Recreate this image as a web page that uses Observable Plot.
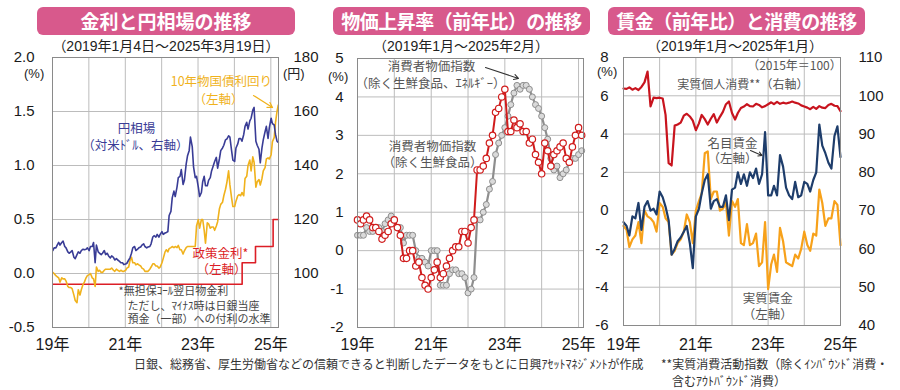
<!DOCTYPE html>
<html><head><meta charset="utf-8">
<script src="https://cdn.jsdelivr.net/npm/d3@7"></script>
<script src="https://cdn.jsdelivr.net/npm/@observablehq/plot@0.6"></script>
<style>
body{margin:0;background:#fff;}
#wrap{position:relative;width:900px;height:390px;overflow:hidden;font-family:"Liberation Sans","Noto Sans CJK JP",sans-serif;color:#222;}
#wrap svg{position:absolute;top:0;}
.title{position:absolute;top:7px;height:28px;background:#d8598c;border-radius:6px;color:#fff;font-weight:bold;font-size:19px;line-height:28px;text-align:center;font-family:"Noto Sans CJK JP",sans-serif;}
.lbl{position:absolute;white-space:nowrap;line-height:1.1;}
</style></head><body><div id="wrap"></div>
<script>
// ---------------- DATA ----------------
// Panel 1: semi-monthly (approx. 4th and 17th of each month), Jan 2019 - Mar 2025
const yenUsd = [
 108.5,109.5, 109.5,110.5, 111.5,110.5, 111.5,112.0, 110.0,109.5, 108.0,107.5, 108.0,108.5, 106.0,105.5, 107.0,108.0, 107.5,108.5, 109.0,108.8, 109.0,109.5,
 108.5,110.0, 110.0,111.5, 104.0,110.5, 108.0,107.5, 107.0,107.5, 108.5,107.0, 107.5,106.5, 105.8,106.5, 106.0,105.0, 105.5,105.0, 104.5,104.0, 104.0,103.3,
 103.5,103.8, 105.0,105.8, 107.5,109.5, 110.0,108.5, 109.0,109.5, 109.8,110.5, 111.0,110.0, 109.5,109.8, 110.0,111.0, 113.5,114.0, 113.5,114.5, 113.5,114.5,
 115.5,114.5, 115.0,115.2, 115.5,121.5, 123.0,128.0, 130.5,128.5, 132.0,135.5, 136.0,138.5, 133.0,134.5, 140.5,143.5, 145.5,150.5, 147.0,139.5, 135.5,136.0,
 132.0,128.5, 130.0,134.0, 136.0,132.5, 132.5,134.5, 135.5,138.0, 140.0,141.5, 143.0,139.0, 142.5,145.5, 146.5,147.5, 149.5,149.8, 151.0,150.5, 145.5,142.0,
 141.5,146.5, 148.0,150.0, 150.0,149.0, 151.5,154.5, 156.0,153.5, 156.5,157.5, 160.5,161.5, 149.0,147.5, 146.0,141.0, 146.5,149.5, 152.5,154.5, 150.0,154.0,
 157.5,155.5, 155.0,151.5, 149.0,148.5
];
const jgb10y = [
 0.01,0.00, -0.02,-0.03, -0.04,-0.08, -0.04,-0.05, -0.05,-0.07, -0.12,-0.13, -0.13,-0.14, -0.20,-0.25, -0.27,-0.15, -0.20,-0.15, -0.10,-0.08, -0.04,-0.02,
 -0.01,0.00, -0.04,-0.05, -0.12,0.06, 0.02,0.03, 0.01,0.01, 0.03,0.04, 0.04,0.04, 0.04,0.05, 0.03,0.02, 0.04,0.03, 0.02,0.03, 0.02,0.02,
 0.03,0.05, 0.06,0.12, 0.15,0.10, 0.10,0.08, 0.09,0.08, 0.07,0.05, 0.04,0.02, 0.02,0.02, 0.04,0.06, 0.09,0.09, 0.07,0.07, 0.05,0.06,
 0.10,0.14, 0.20,0.22, 0.20,0.23, 0.24,0.25, 0.24,0.25, 0.24,0.26, 0.22,0.22, 0.18,0.21, 0.24,0.25, 0.25,0.25, 0.25,0.25, 0.25,0.44,
 0.50,0.42, 0.50,0.50, 0.40,0.28, 0.47,0.46, 0.42,0.43, 0.43,0.40, 0.44,0.48, 0.60,0.64, 0.66,0.72, 0.78,0.84, 0.95,0.82, 0.70,0.62,
 0.62,0.67, 0.72,0.73, 0.72,0.75, 0.72,0.88, 0.90,1.00, 1.05,0.95, 1.08,1.03, 0.80,0.85, 0.87,0.82, 0.88,0.95, 0.98,1.06, 1.07,1.06,
 1.10,1.22, 1.26,1.40, 1.50,1.56
];
const policyDates = ["2019-01-04","2024-03-19","2024-07-31","2025-01-24","2025-03-19"];
const policyRate  = [-0.1, 0.1, 0.25, 0.5, 0.5];

// Panel 2: monthly, Jan 2019 - Feb 2025
const cpiCore = [
 0.8,0.7,0.8,0.9,0.8,0.6,0.6,0.5,0.3,0.4,0.5,0.7,
 0.8,0.6,0.4,-0.2,-0.2,0.0,0.0,-0.4,-0.3,-0.7,-0.9,-1.0,
 -0.7,-0.5,-0.3,-0.7,-0.6,-0.4,-0.2,0.0,0.1,0.1,0.5,0.5,
 0.2,0.6,0.8,2.1,2.1,2.2,2.4,2.8,3.0,3.6,3.7,4.0,
 4.2,3.1,3.1,3.4,3.2,3.3,3.1,3.1,2.8,2.9,2.5,2.3,
 2.0,2.8,2.6,2.2,2.5,2.6,2.7,2.8,2.4,2.3,2.7,3.0,
 3.2,3.0
];
const cpiCoreCore = [
 0.4,0.4,0.4,0.6,0.5,0.5,0.6,0.6,0.5,0.7,0.8,0.9,
 0.8,0.6,0.6,0.2,0.4,0.4,0.4,0.0,-0.2,-0.2,-0.3,-0.4,
 0.0,0.0,0.0,-0.9,-0.9,-0.9,-0.6,-0.5,-0.5,-0.6,-0.6,-0.7,
 -1.1,-1.0,-0.7,0.8,0.8,1.0,1.2,1.6,1.8,2.5,2.8,3.0,
 3.2,3.5,3.8,4.1,4.3,4.2,4.3,4.3,4.2,4.0,3.8,3.7,
 3.5,3.2,2.9,2.4,2.1,2.2,1.9,2.0,2.1,2.3,2.4,2.4,
 2.5,2.6
];

// Panel 3: monthly, Jan 2019 - Jan 2025
const nominalWage = [
 -0.6,-0.8,-1.3,-0.3,-0.4,0.4,-1.0,0.2,0.5,0.0,0.1,-0.2,
 1.0,0.7,0.2,-0.5,-2.3,-2.0,-1.6,-1.4,-1.1,-0.8,-1.7,-3.0,
 -0.3,0.1,0.9,1.6,1.9,0.1,0.5,0.6,0.2,0.2,0.8,-0.5,
 1.1,1.2,2.0,1.4,1.9,1.3,2.0,1.7,2.2,1.4,1.9,4.1,
 0.8,0.8,1.3,0.8,2.9,2.3,1.2,0.8,0.6,1.5,0.7,0.8,
 1.5,1.4,1.0,1.6,2.0,4.5,3.4,3.0,2.5,2.2,3.9,4.4,
 2.8
];
const realWage = [
 -0.8,-1.0,-1.9,-1.5,-1.3,-0.6,-1.7,0.0,-0.3,-0.4,-0.6,-1.1,
 0.4,0.2,-0.4,-0.6,-2.3,-2.1,-1.7,-1.5,-1.1,-0.2,-0.6,-1.7,
 0.0,0.5,0.9,3.0,3.1,0.6,1.0,1.0,0.0,0.1,0.4,-1.3,
 0.5,0.2,0.6,-1.7,-1.8,-0.7,-1.8,-1.7,-1.2,-2.9,-2.7,-0.6,
 -4.1,-2.8,-2.3,-3.2,-0.9,-1.6,-2.7,-2.8,-2.9,-2.3,-2.5,-2.0,
 -1.1,-1.8,-2.1,-1.2,-1.3,1.1,0.4,-0.8,-0.4,-0.4,0.5,0.3,
 -1.8
];
const realConsumption = [
 101.9,101.8,102.2,101.6,102.0,101.5,102.3,103.5,106.3,97.2,99.5,99.4,
 99.5,99.3,95.0,82.4,81.8,92.2,92.5,93.0,94.8,95.3,94.6,93.5,
 91.0,92.8,95.0,93.9,92.5,94.0,95.2,93.0,94.5,95.8,97.8,98.5,
 95.5,93.8,95.5,96.8,97.2,97.8,97.3,97.2,97.9,97.6,97.0,97.3,
 97.8,98.3,97.8,98.4,97.9,98.2,98.0,98.2,98.5,98.2,98.0,97.5,
 97.2,96.9,96.5,97.1,96.6,97.3,96.9,96.8,97.6,97.9,97.4,97.3,
 96.0
];

// Tick labels
const yearLabels = [2019, 2021, 2023, 2025];

// ---------------- BUILD ----------------
const D = s => new Date(s + "T00:00:00Z");
const halfMonths = d3.utcMonths(D("2019-01-01"), D("2025-04-01"))
  .flatMap(m => [d3.utcDay.offset(m, 3), d3.utcDay.offset(m, 16)]);
const rateTable = halfMonths.map((date, i) => ({date, yen: yenUsd[i], jgb: jgb10y[i]}));
const policyTable = policyDates.map((s, i) => ({date: D(s), rate: policyRate[i]}));
const cpiMonths = d3.utcMonths(D("2019-01-01"), D("2025-03-01"));
const cpiTable = cpiMonths.map((date, i) => ({date, core: cpiCore[i], cc: cpiCoreCore[i]}));
const wageMonths = d3.utcMonths(D("2019-01-01"), D("2025-02-01"));
const wageTable = wageMonths.map((date, i) => ({date, nom: nominalWage[i], real: realWage[i], cons: realConsumption[i]}));
const yearTicks = yearLabels.map(y => new Date(Date.UTC(y, 0, 1)));
const yearGrid = d3.range(2019, 2026).map(y => new Date(Date.UTC(y, 0, 1)));
const yearFmt = d => (d.getUTCFullYear() % 100) + "年";

const FONT = '"Liberation Sans","Noto Sans CJK JP",sans-serif';
const JFONT = '"Noto Sans CJK JP",sans-serif';
const GRID = "#bcbcbc";
const C = {yen:"#393c96", jgb:"#f0b21c", pol:"#dc1e26", cpiR:"#d01c1c", cpiG:"#8e8e8e",
           nom:"#1e3d6b", real:"#f7a11a", cons:"#c8141e", note:"#555"};
const baseStyle = {fontFamily: FONT, fontSize: "15px", color: "#1a1a1a", background: "transparent", overflow: "visible"};

// ---- Panel 1 ----
const yenToL = v => (v - 100) / 40;
const p1 = Plot.plot({
  width: 320, height: 362, marginLeft: 52, marginRight: 42, marginTop: 57, marginBottom: 35,
  style: baseStyle,
  color: {type: "identity"},
  x: {type: "utc", domain: [D("2019-01-01"), D("2025-03-19")]},
  y: {domain: [-0.5, 2.0]},
  marks: [
    Plot.gridX(yearGrid, {stroke: GRID, strokeOpacity: 1}),
    Plot.gridY([-0.5, 0, 0.5, 1, 1.5, 2], {stroke: GRID, strokeOpacity: 1}),
    Plot.axisY([-0.5, 0, 0.5, 1, 1.5, 2], {anchor: "left", tickSize: 0, tickPadding: 18, tickFormat: d => d.toFixed(1), label: null, fontSize: 15}),
    Plot.axisY([0, 0.5, 1, 1.5, 2], {anchor: "right", tickSize: 0, tickPadding: 15, tickFormat: d => String(100 + d * 40), label: null, fontSize: 15}),
    Plot.axisX(yearTicks, {tickSize: 0, tickPadding: 11, tickFormat: yearFmt, label: null, fontSize: 16}),
    Plot.line(policyTable, {x: "date", y: "rate", curve: "step-after", stroke: C.pol, strokeWidth: 1.6}),
    Plot.line(rateTable, {x: "date", y: "jgb", stroke: C.jgb, strokeWidth: 1.6}),
    Plot.line(rateTable, {x: "date", y: d => yenToL(d.yen), stroke: C.yen, strokeWidth: 1.6}),
    Plot.frame({stroke: "#8a8a8a"}),
    Plot.text([
      {x: D("2023-08-24"), y: 1.77, t: "10年物国債利回り", c: C.jgb},
      {x: D("2023-07-25"), y: 1.61, t: "（左軸）", c: C.jgb},
      {x: D("2021-04-23"), y: 1.34, t: "円相場", c: C.yen},
      {x: D("2021-04-13"), y: 1.176, t: "（対米ﾄﾞﾙ、右軸）", c: C.yen},
      {x: D("2023-08-14"), y: 0.185, t: "政策金利*", c: C.pol},
      {x: D("2023-08-24"), y: 0.03, t: "（左軸）", c: C.pol}
    ], {x: "x", y: "y", text: "t", fill: "c", fontSize: 12.5, fontFamily: JFONT}),
    Plot.text([
      {x: D("2020-10-25"), y: -0.167, t: "*無担保ｺｰﾙ翌日物金利"},
      {x: D("2021-01-23"), y: -0.306, t: "ただし、ﾏｲﾅｽ時は日銀当座"},
      {x: D("2021-01-23"), y: -0.43, t: "預金（一部）への付利の水準"}
    ], {x: "x", y: "y", text: "t", fill: "#444", fontSize: 11, textAnchor: "start", fontFamily: JFONT}),
    Plot.arrow([{x1: D("2024-07-11"), y1: 1.648, x2: D("2025-01-18"), y2: 1.537}],
      {x1: "x1", y1: "y1", x2: "x2", y2: "y2", stroke: C.jgb, strokeWidth: 1.2, headLength: 7})
  ]
});
p1.style.left = "0px";

// ---- Panel 2 ----
const p2 = Plot.plot({
  width: 300, height: 362, marginLeft: 57, marginRight: 17, marginTop: 58, marginBottom: 35,
  style: baseStyle,
  x: {type: "utc", domain: [D("2019-01-01"), D("2025-02-19")]},
  y: {domain: [-2, 5]},
  marks: [
    Plot.gridX(yearGrid, {stroke: GRID, strokeOpacity: 1}),
    Plot.gridY(d3.range(-2, 6), {stroke: GRID, strokeOpacity: 1}),
    Plot.axisY(d3.range(-2, 6), {anchor: "left", tickSize: 0, tickPadding: 14, tickFormat: d => String(d), label: null, fontSize: 15}),
    Plot.axisX(yearTicks, {tickSize: 0, tickPadding: 11, tickFormat: yearFmt, label: null, fontSize: 16}),
    Plot.line(cpiTable, {x: "date", y: "cc", stroke: C.cpiG, strokeWidth: 2.2}),
    Plot.dot(cpiTable, {x: "date", y: "cc", r: 3, fill: "#dadada", stroke: C.cpiG, strokeWidth: 1}),
    Plot.line(cpiTable, {x: "date", y: "core", stroke: C.cpiR, strokeWidth: 2}),
    Plot.dot(cpiTable, {x: "date", y: "core", r: 3.2, fill: "#fff", stroke: C.cpiR, strokeWidth: 1.2}),
    Plot.frame({stroke: "#8a8a8a"}),
    Plot.text([
      {x: D("2021-01-04"), y: 4.77, t: "消費者物価指数"},
      {x: D("2020-12-24"), y: 4.33, t: "（除く生鮮食品、ｴﾈﾙｷﾞｰ）"},
      {x: D("2021-01-14"), y: 2.70, t: "消費者物価指数"},
      {x: D("2021-01-14"), y: 2.27, t: "（除く生鮮食品）"}
    ], {x: "x", y: "y", text: "t", fill: C.note, fontSize: 12.5, fontFamily: JFONT}),
    Plot.arrow([{x1: D("2022-06-23"), y1: 4.766, x2: D("2023-05-16"), y2: 4.48}],
      {x1: "x1", y1: "y1", x2: "x2", y2: "y2", stroke: "#333", strokeWidth: 1.1, headLength: 7})
  ]
});
p2.style.left = "300px";

// ---- Panel 3 ----
const consToL = v => (v - 70) / 5;
const p3 = Plot.plot({
  width: 310, height: 362, marginLeft: 33, marginRight: 60, marginTop: 57, marginBottom: 37,
  style: baseStyle,
  x: {type: "utc", domain: [D("2019-01-01"), D("2025-01-01")]},
  y: {domain: [-6, 8]},
  marks: [
    Plot.gridX(yearGrid, {stroke: GRID, strokeOpacity: 1}),
    Plot.gridY(d3.range(-6, 9, 2), {stroke: GRID, strokeOpacity: 1}),
    Plot.axisY(d3.range(-6, 9, 2), {anchor: "left", tickSize: 0, tickPadding: 15, tickFormat: d => String(d), label: null, fontSize: 15}),
    Plot.axisY(d3.range(-6, 9, 2), {anchor: "right", tickSize: 0, tickPadding: 18, tickFormat: d => String(70 + 5 * d), label: null, fontSize: 15}),
    Plot.axisX(yearTicks, {tickSize: 0, tickPadding: 13, tickFormat: yearFmt, label: null, fontSize: 16}),
    Plot.line(wageTable, {x: "date", y: d => consToL(d.cons), stroke: C.cons, strokeWidth: 2.2}),
    Plot.line(wageTable, {x: "date", y: "real", stroke: C.real, strokeWidth: 2.2}),
    Plot.line(wageTable, {x: "date", y: "nom", stroke: C.nom, strokeWidth: 2.2}),
    Plot.frame({stroke: "#8a8a8a"}),
    Plot.text([
      {x: D("2023-09-24"), y: 7.53, t: "（2015年＝100）", s: 12},
      {x: D("2022-04-20"), y: 6.54, t: "実質個人消費**（右軸）", s: 12},
      {x: D("2022-01-05"), y: 3.50, t: "名目賃金", s: 12.5},
      {x: D("2022-01-05"), y: 2.68, t: "（左軸）", s: 12.5},
      {x: D("2022-12-27"), y: -4.64, t: "実質賃金", s: 12.5},
      {x: D("2022-12-27"), y: -5.47, t: "（左軸）", s: 12.5}
    ], {x: "x", y: "y", text: "t", fill: C.note, fontSize: "s", fontFamily: JFONT}),
    Plot.arrow([{x1: D("2022-07-07"), y1: 3.14, x2: D("2022-10-31"), y2: 2.88}],
      {x1: "x1", y1: "y1", x2: "x2", y2: "y2", stroke: "#333", strokeWidth: 1.1, headLength: 6})
  ]
});
p3.style.left = "590px";

const wrap = document.getElementById("wrap");
wrap.append(p1, p2, p3);

function addLabel(text, css, cls) {
  const d = document.createElement("div");
  d.className = cls || "lbl";
  d.textContent = text;
  Object.assign(d.style, css);
  wrap.appendChild(d);
}
// titles
addLabel("金利と円相場の推移", {left: "37px", width: "258px"}, "title");
addLabel("物価上昇率（前年比）の推移", {left: "333px", width: "257px", letterSpacing: "-0.5px"}, "title");
addLabel("賃金（前年比）と消費の推移", {left: "608px", width: "257px", letterSpacing: "-0.5px"}, "title");
// subtitles
const sub = {top: "39px", fontSize: "14px", textAlign: "center", fontFamily: FONT};
addLabel("（2019年1月4日～2025年3月19日）", {...sub, left: "36px", width: "260px"});
addLabel("（2019年1月～2025年2月）", {...sub, left: "331px", width: "260px"});
addLabel("（2019年1月～2025年1月）", {...sub, left: "605px", width: "260px"});
// unit labels
const unit = {fontSize: "13px", fontFamily: FONT};
addLabel("(%)", {...unit, left: "24px", top: "67px"});
addLabel("(円)", {...unit, left: "283px", top: "67px"});
addLabel("(%)", {...unit, left: "328px", top: "70px"});
addLabel("(%)", {...unit, left: "597px", top: "65px"});
// footers
const foot = {fontSize: "12px", fontFamily: JFONT, color: "#333"};
addLabel("日銀、総務省、厚生労働省などの信頼できると判断したデータをもとに日興ｱｾｯﾄﾏﾈｼﾞﾒﾝﾄが作成", {...foot, left: "134px", top: "357px"});
addLabel("**実質消費活動指数（除くｲﾝﾊﾞｳﾝﾄﾞ消費・", {...foot, left: "661px", top: "357px"});
addLabel("含むｱｳﾄﾊﾞｳﾝﾄﾞ消費）", {...foot, left: "672px", top: "374px"});
</script>
</body></html>
